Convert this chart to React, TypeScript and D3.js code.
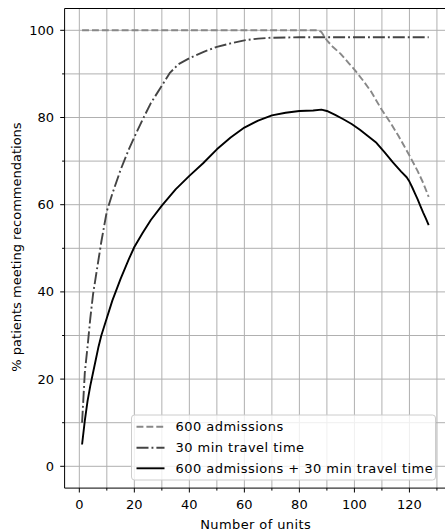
import React from "react";
import * as d3 from "d3";

const admX = [1, 87, 88, 90, 92, 95, 98, 100, 103, 106, 110, 113, 116, 120, 123, 125, 127];
const admY = [100, 100, 99.6, 97.7, 96.3, 94.6, 92.4, 91, 88.6, 86, 81.7, 78.9, 75.8, 71.3, 67.7, 65, 61.8];

const travelX = [1, 2, 3, 4, 5, 6, 7, 8, 10, 12, 15, 18, 20, 23, 26, 30, 33, 36, 40, 45, 50, 55, 60, 65, 70, 80, 127];
const travelY = [10, 21.5, 27.5, 34, 39.5, 43.5, 47.5, 51.5, 58.5, 62.5, 68, 72.7, 75.5, 79.5, 83.3, 87.3, 90.3, 92.2, 93.6, 95, 96.2, 97, 97.7, 98.1, 98.3, 98.4, 98.4];

const bothX = [1, 2, 3, 4, 5, 6, 7, 8, 10, 12, 15, 18, 20, 23, 26, 30, 35, 40, 45, 50, 55, 60, 65, 70, 75, 80, 85, 88, 90, 93, 96, 99, 102, 105, 108, 111, 114, 117, 119, 120, 121, 122, 123, 124, 125, 126, 127];
const bothY = [5, 10.5, 15, 18.5, 21.5, 24.5, 27.5, 30, 34, 38, 43, 47.5, 50.3, 53.5, 56.5, 59.8, 63.5, 66.6, 69.5, 72.7, 75.4, 77.7, 79.3, 80.5, 81.1, 81.5, 81.6, 81.8, 81.5, 80.6, 79.6, 78.5, 77.2, 75.7, 74.2, 72, 69.7, 67.6, 66.3, 65.3, 64, 62.6, 61.2, 59.7, 58.2, 56.8, 55.3];

const xMajor = [0, 20, 40, 60, 80, 100, 120];
const xMinor = [10, 30, 50, 70, 90, 110, 130];
const yMajor = [0, 20, 40, 60, 80, 100];
const yMinor = [10, 30, 50, 70, 90];

const seriesNames = ["600 admissions", "30 min travel time", "600 admissions + 30 min travel time"];

const FONT = "'DejaVu Sans', sans-serif";

export default function App() {
  const W = 445, H = 531;
  const x = d3.scaleLinear().domain([-5.35, 134.35]).range([64.6, 448.9]);
  const y = d3.scaleLinear().domain([-5, 105]).range([488.1, 8.5]);
  const left = x(-5.35), right = x(134.35), top = y(105), bottom = y(-5);

  const line = d3.line<[number, number]>().x(d => x(d[0])).y(d => y(d[1]));
  const mk = (xs: number[], ys: number[]) => line(xs.map((v, i) => [v, ys[i]] as [number, number])) || "";

  const series = [
    { name: seriesNames[0], path: mk(admX, admY), color: "#888888", dash: "6.9 3", width: 1.9 },
    { name: seriesNames[1], path: mk(travelX, travelY), color: "#444444", dash: "12 3 1.9 3", width: 1.9 },
    { name: seriesNames[2], path: mk(bothX, bothY), color: "#000000", dash: "", width: 1.9 },
  ];

  const legX = 131.5, legY = 415, legW = 304, legH = 65;
  const rows = [426.7, 447.7, 468.3];

  return (
    <svg width={W} height={H} style={{ position: "absolute", left: 0, top: 0, background: "#fff" }} fontFamily={FONT}>
      <defs>
        <clipPath id="plot">
          <rect x={left} y={top} width={right - left} height={bottom - top} />
        </clipPath>
      </defs>
      <rect x={0} y={0} width={W} height={H} fill="#fff" />
      <g stroke="#b0b0b0" strokeWidth={1}>
        {[...xMajor, ...xMinor].map(v => (
          <line key={"gx" + v} x1={x(v)} x2={x(v)} y1={top} y2={bottom} />
        ))}
        {[...yMajor, ...yMinor].map(v => (
          <line key={"gy" + v} x1={left} x2={right} y1={y(v)} y2={y(v)} />
        ))}
      </g>
      <g clipPath="url(#plot)" fill="none">
        {series.map(s => (
          <path key={s.name} d={s.path} stroke={s.color} strokeWidth={s.width} strokeDasharray={s.dash || undefined} strokeLinejoin="round" />
        ))}
      </g>
      <g stroke="#000" strokeWidth={1} fill="none">
        <line x1={left} x2={left} y1={top} y2={bottom} />
        <line x1={left} x2={right} y1={bottom} y2={bottom} />
        <line x1={left} x2={right} y1={top} y2={top} />
        <line x1={right} x2={right} y1={top} y2={bottom} />
      </g>
      <g stroke="#000" strokeWidth={1}>
        {xMajor.map(v => <line key={"tx" + v} x1={x(v)} x2={x(v)} y1={bottom} y2={bottom + 4.4} />)}
        {xMinor.map(v => <line key={"tmx" + v} x1={x(v)} x2={x(v)} y1={bottom} y2={bottom + 2.5} />)}
        {yMajor.map(v => <line key={"ty" + v} x1={left} x2={left - 4.4} y1={y(v)} y2={y(v)} />)}
        {yMinor.map(v => <line key={"tmy" + v} x1={left} x2={left - 2.5} y1={y(v)} y2={y(v)} />)}
      </g>
      <g fontSize={13} fill="#000">
        {xMajor.map(v => (
          <text key={"lx" + v} x={x(v)} y={509.3} textAnchor="middle">{v}</text>
        ))}
        {yMajor.map(v => (
          <text key={"ly" + v} x={54} y={y(v)} textAnchor="end" dominantBaseline="central">{v}</text>
        ))}
        <text x={255.7} y={528.5} textAnchor="middle" letterSpacing={0.4}>Number of units</text>
        <text transform={`translate(21, 247) rotate(-90)`} textAnchor="middle">% patients meeting recommendations</text>
      </g>
      <g>
        <rect x={legX} y={legY} width={legW} height={legH} rx={3} fill="#fff" fillOpacity={0.8} stroke="#cccccc" strokeWidth={1} />
        {series.map((s, i) => (
          <g key={"leg" + i}>
            <line x1={136.5} x2={164.5} y1={rows[i]} y2={rows[i]} stroke={s.color} strokeWidth={s.width} strokeDasharray={s.dash || undefined} />
            <text x={175.5} y={rows[i]} fontSize={13} letterSpacing={0.47} dominantBaseline="central" fill="#000">{s.name}</text>
          </g>
        ))}
      </g>
    </svg>
  );
}
